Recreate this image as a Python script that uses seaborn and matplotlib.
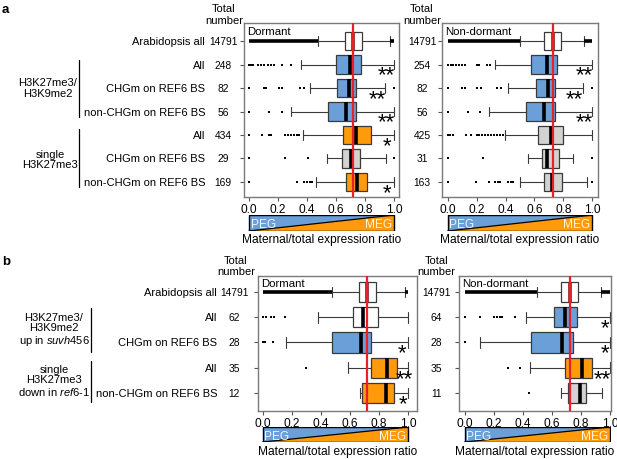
import numpy as np
import pandas as pd
import matplotlib
matplotlib.use("Agg")
import matplotlib.pyplot as plt
import matplotlib.transforms as mtransforms
from matplotlib.patches import Polygon, Rectangle
from matplotlib.lines import Line2D
import seaborn as sns

# ---------------- data ----------------
row_labels_a = ["Arabidopsis all", "All", "CHGm on REF6 BS", "non-CHGm on REF6 BS",
                "All", "CHGm on REF6 BS", "non-CHGm on REF6 BS"]
row_labels_b = ["Arabidopsis all", "All", "CHGm on REF6 BS", "All", "non-CHGm on REF6 BS"]

n_a_dorm = [14791, 248, 82, 56, 434, 29, 169]
n_a_nd = [14791, 254, 82, 56, 425, 31, 163]
n_b_dorm = [14791, 62, 28, 35, 12]
n_b_nd = [14791, 64, 28, 35, 11]

col_a_dorm = ["white", "blue", "blue", "blue", "orange", "grey", "orange"]
col_a_nd = ["white", "blue", "blue", "blue", "grey", "grey", "grey"]
col_b_dorm = ["white", "white", "blue", "orange", "orange"]
col_b_nd = ["white", "blue", "blue", "orange", "grey"]

# panel a, dormant
a_dorm_q1 = [0.660, 0.600, 0.607, 0.545, 0.648, 0.644, 0.667]
a_dorm_med = [0.717, 0.694, 0.690, 0.667, 0.736, 0.706, 0.747]
a_dorm_q3 = [0.780, 0.775, 0.740, 0.740, 0.844, 0.768, 0.816]
a_dorm_lo = [0.476, 0.356, 0.418, 0.290, 0.372, 0.538, 0.464]
a_dorm_hi = [0.975, 1.000, 0.940, 1.000, 1.000, 0.943, 1.000]
a_dorm_fliers = [
    [],
    [0.0, 0.015, 0.03, 0.06, 0.08, 0.10, 0.13, 0.15, 0.17, 0.23, 0.29],
    [0.0, 0.10, 0.12, 0.21, 0.23, 0.35, 0.38, 1.0],
    [0.0, 0.14, 0.23],
    [0.0, 0.09, 0.14, 0.155, 0.25, 0.27, 0.29, 0.31, 0.33, 0.345],
    [0.0, 0.246, 0.407, 1.0],
    [0.0, 0.33, 0.38, 0.40, 0.42, 0.435],
]

# panel a, non-dormant
a_nd_q1 = [0.666, 0.574, 0.608, 0.541, 0.627, 0.654, 0.666]
a_nd_med = [0.725, 0.684, 0.694, 0.666, 0.714, 0.687, 0.719]
a_nd_q3 = [0.780, 0.758, 0.742, 0.745, 0.795, 0.772, 0.793]
a_nd_lo = [0.500, 0.327, 0.415, 0.288, 0.395, 0.553, 0.500]
a_nd_hi = [0.940, 1.000, 0.935, 1.000, 1.000, 0.864, 0.965]
a_nd_fliers = [
    [],
    [0.0, 0.02, 0.04, 0.06, 0.08, 0.10, 0.12, 0.20, 0.22, 0.27, 0.29],
    [0.0, 0.10, 0.12, 0.20, 0.23, 0.34, 0.37, 1.0],
    [0.0, 0.143, 0.224],
    [0.0, 0.015, 0.035, 0.13, 0.16, 0.20, 0.22, 0.24, 0.26, 0.28, 0.30, 0.32, 0.34, 0.36, 0.38],
    [0.0, 0.246, 1.0],
    [0.0, 0.196, 0.288, 0.33, 0.35, 0.36, 0.42, 0.435, 0.45, 1.0],
]

# panel b, dormant
b_dorm_q1 = [0.660, 0.618, 0.474, 0.744, 0.684]
b_dorm_med = [0.717, 0.691, 0.675, 0.851, 0.844]
b_dorm_q3 = [0.780, 0.794, 0.741, 0.920, 0.900]
b_dorm_lo = [0.476, 0.382, 0.158, 0.584, 0.668]
b_dorm_hi = [0.975, 1.000, 1.000, 1.000, 1.000]
b_dorm_fliers = [[], [0.0, 0.02, 0.06, 0.08, 0.15], [0.0, 0.015, 0.069], [0.297], []]

# panel b, non-dormant
b_nd_q1 = [0.666, 0.616, 0.455, 0.690, 0.713]
b_nd_med = [0.725, 0.694, 0.673, 0.809, 0.793]
b_nd_q3 = [0.780, 0.777, 0.743, 0.878, 0.839]
b_nd_lo = [0.500, 0.425, 0.108, 0.448, 0.667]
b_nd_hi = [0.940, 1.000, 1.000, 1.000, 0.943]
b_nd_fliers = [[], [0.0, 0.103, 0.20, 0.22, 0.24, 0.26, 0.345], [0.0], [0.30, 0.38], [0.444]]

# dense outlier bands of "Arabidopsis all" (so many points they merge into a line)
dorm_band_lo = [0.0, 0.476]
dorm_band_hi = [0.975, 1.0]
nd_band_lo = [0.0, 0.500]
nd_band_hi = [0.940, 1.0]

ref_dorm = 0.717
ref_nd = 0.725

stars_a_dorm = ["", "**", "**", "**", "*", "", "*"]
stars_a_nd = ["", "**", "**", "**", "", "", ""]
stars_b_dorm = ["", "", "*", "**", "*"]
stars_b_nd = ["", "*", "*", "**", ""]
starx_a_dorm = [0, 0.945, 0.885, 0.945, 0.95, 0, 0.95]
starx_a_nd = [0, 0.945, 0.875, 0.945, 0, 0, 0]
starx_b_dorm = [0, 0, 0.955, 0.975, 0.965]
starx_b_nd = [0, 0.965, 0.965, 0.95, 0]

xticks = [0.0, 0.2, 0.4, 0.6, 0.8, 1.0]
xtick_labels = ["0.0", "0.2", "0.4", "0.6", "0.8", "1.0"]

# ---------------- style ----------------
sns.set_theme(style="white")
plt.rcParams["font.family"] = ["Liberation Sans", "DejaVu Sans"]
plt.rcParams["mathtext.fontset"] = "custom"
plt.rcParams["mathtext.rm"] = "Liberation Sans"
plt.rcParams["mathtext.it"] = "Liberation Sans:italic"
plt.rcParams["text.color"] = "black"
plt.rcParams["xtick.color"] = "black"
plt.rcParams["ytick.color"] = "black"
FS = 8
FS_NUM = 7.4

palette = {"white": "#ffffff", "blue": "#6a9fd8", "orange": "#ff9a0a", "grey": "#d2d2d2"}
EDGE = "#3a3a3a"
RED = "#e8202a"

W, H = 617, 460
fig = plt.figure(figsize=(W / 100, H / 100), dpi=100)


def add_ax(l, t, r, b):
    return fig.add_axes([l / W, 1 - b / H, (r - l) / W, (b - t) / H])


def ftext(x, y, s, **kw):
    kw.setdefault("fontsize", FS)
    fig.text(x / W, 1 - y / H, s, **kw)


def vline(x, y0, y1):
    fig.add_artist(Line2D([x / W, x / W], [1 - y0 / H, 1 - y1 / H],
                          transform=fig.transFigure, color="black", lw=0.9))


def panel(box, xlim, ylim, q1, med, q3, lo, hi, fliers, cols, band_lo, band_hi,
          ref, title, stars, starx, labels, nums, label_x, num_x, bar_tb, xlab_y):
    ax = add_ax(*box)
    n = len(med)
    stats = []
    for i in range(n):
        stats.append(dict(med=med[i], q1=q1[i], q3=q3[i], whislo=lo[i], whishi=hi[i], fliers=[]))
    res = ax.bxp(stats, positions=list(range(n)), widths=0.8, orientation="horizontal",
                 patch_artist=True, showfliers=False, capwidths=0.42,
                 boxprops=dict(edgecolor=EDGE, linewidth=0.9),
                 whiskerprops=dict(color=EDGE, linewidth=0.8),
                 capprops=dict(color=EDGE, linewidth=0.8),
                 medianprops=dict(color="black", linewidth=2.6, solid_capstyle="butt"))
    for patch, c in zip(res["boxes"], cols):
        patch.set_facecolor(palette[c])
    res["medians"][0].set_color("#8a1515")
    # fliers
    fx, fy = [], []
    for i, fl in enumerate(fliers):
        fx += fl
        fy += [i] * len(fl)
    df = pd.DataFrame({"x": fx, "y": fy})
    sns.scatterplot(data=df, x="x", y="y", ax=ax, color="black", marker="s", s=3.6,
                    linewidth=0, legend=False, zorder=3)
    # dense flier bands for the genome-wide row
    ax.hlines([0, 0], [band_lo[0], band_hi[0]], [band_lo[1], band_hi[1]],
              color="black", lw=2.6, zorder=3)
    ax.axvline(ref, color=RED, lw=1.6, zorder=6)
    ax.set_xlim(*xlim)
    ax.set_ylim(*ylim)
    ax.set_xticks(xticks)
    ax.set_xticklabels(xtick_labels)
    ax.set_yticks(list(range(n)))
    ax.set_yticklabels([])
    ax.set_xlabel("")
    ax.set_ylabel("")
    ax.tick_params(axis="both", direction="out", length=3, width=0.8, color="#555555",
                   labelsize=8.6, pad=1.5, bottom=True, left=True)
    for s in ax.spines.values():
        s.set_color("#7a7a7a")
        s.set_linewidth(1.0)
    ax.text(0.02, 0.985, title, transform=ax.transAxes, ha="left", va="top", fontsize=8.2)
    for i in range(n):
        if stars[i]:
            ax.annotate(stars[i], xy=(starx[i], i), xytext=(0, -11.5), textcoords="offset points",
                        ha="center", va="baseline", fontsize=16, zorder=7, color="black")
    tr = mtransforms.blended_transform_factory(fig.transFigure, ax.transData)
    for i in range(n):
        if labels is not None:
            ax.text(label_x / W, i, labels[i], transform=tr, ha="right", va="center", fontsize=FS)
        ax.text(num_x / W, i, str(nums[i]), transform=tr, ha="center", va="center", fontsize=FS_NUM)
    # PEG / MEG gradient bar
    bx = add_ax(box[0], bar_tb[0], box[2], bar_tb[1])
    bx.set_xlim(*xlim)
    bx.set_ylim(0, 1)
    bx.axis("off")
    bx.add_patch(Polygon([(0, 0), (0, 1), (1, 1)], closed=True, facecolor=palette["blue"], edgecolor="none"))
    bx.add_patch(Polygon([(0, 0), (1, 1), (1, 0)], closed=True, facecolor=palette["orange"], edgecolor="none"))
    bx.plot([0, 1], [0, 1], color="black", lw=0.9)
    bx.add_patch(Rectangle((0, 0), 1, 1, fill=False, edgecolor="black", lw=1.0))
    bx.text(0.012, 0.42, "PEG", ha="left", va="center", color="#eef4fb", fontsize=8.6)
    bx.text(0.988, 0.42, "MEG", ha="right", va="center", color="#fff4dc", fontsize=8.6)
    ftext((box[0] + box[2]) / 2, xlab_y, "Maternal/total expression ratio", ha="center",
          va="center", fontsize=8.6)
    return ax


# panel a
panel((244, 24, 399, 198), (-0.0345, 1.0345), (6.64, -0.77),
      a_dorm_q1, a_dorm_med, a_dorm_q3, a_dorm_lo, a_dorm_hi, a_dorm_fliers, col_a_dorm,
      dorm_band_lo, dorm_band_hi, ref_dorm, "Dormant", stars_a_dorm, starx_a_dorm,
      row_labels_a, n_a_dorm, 205, 223, (216, 232), 240)
panel((442, 24, 598, 198), (-0.039, 1.039), (6.64, -0.77),
      a_nd_q1, a_nd_med, a_nd_q3, a_nd_lo, a_nd_hi, a_nd_fliers, col_a_nd,
      nd_band_lo, nd_band_hi, ref_nd, "Non-dormant", stars_a_nd, starx_a_nd,
      None, n_a_nd, 0, 422, (216, 232), 240)
# panel b
panel((258, 277, 417, 412), (-0.032, 1.06), (4.71, -0.63),
      b_dorm_q1, b_dorm_med, b_dorm_q3, b_dorm_lo, b_dorm_hi, b_dorm_fliers, col_b_dorm,
      dorm_band_lo, dorm_band_hi, ref_dorm, "Dormant", stars_b_dorm, starx_b_dorm,
      row_labels_b, n_b_dorm, 217, 234, (428, 443), 452)
panel((459, 277, 611, 412), (-0.039, 1.008), (4.71, -0.63),
      b_nd_q1, b_nd_med, b_nd_q3, b_nd_lo, b_nd_hi, b_nd_fliers, col_b_nd,
      nd_band_lo, nd_band_hi, ref_nd, "Non-dormant", stars_b_nd, starx_b_nd,
      None, n_b_nd, 0, 436.5, (428, 443), 452)

# panel letters & headers
ftext(2, 10, "a", fontweight="bold", fontsize=9.5, ha="left", va="center")
ftext(2, 262, "b", fontweight="bold", fontsize=9.5, ha="left", va="center")
for x, y in [(224, 9.5), (422, 9.5), (236, 261), (436.5, 261)]:
    ftext(x, y, "Total", ha="center", va="center")
    ftext(x, y + 11.5, "number", ha="center", va="center")

# group labels
ftext(48, 88.5, "H3K27me3/\nH3K9me2", ha="center", va="center", ma="center", linespacing=1.05)
vline(79, 61, 118)
ftext(50, 160, "single\nH3K27me3", ha="center", va="center", ma="center", linespacing=1.05)
vline(79, 130, 188)
ftext(54, 330.5, "H3K27me3/\nH3K9me2\nup in $\\it{suvh456}$", ha="center", va="center",
      ma="center", linespacing=1.1)
vline(90.7, 309, 353)
ftext(54, 381.5, "single\nH3K27me3\ndown in $\\it{ref6}$-$\\it{1}$", ha="center", va="center",
      ma="center", linespacing=1.1)
vline(90.7, 362, 403)

fig.savefig("out.png", dpi=100)
